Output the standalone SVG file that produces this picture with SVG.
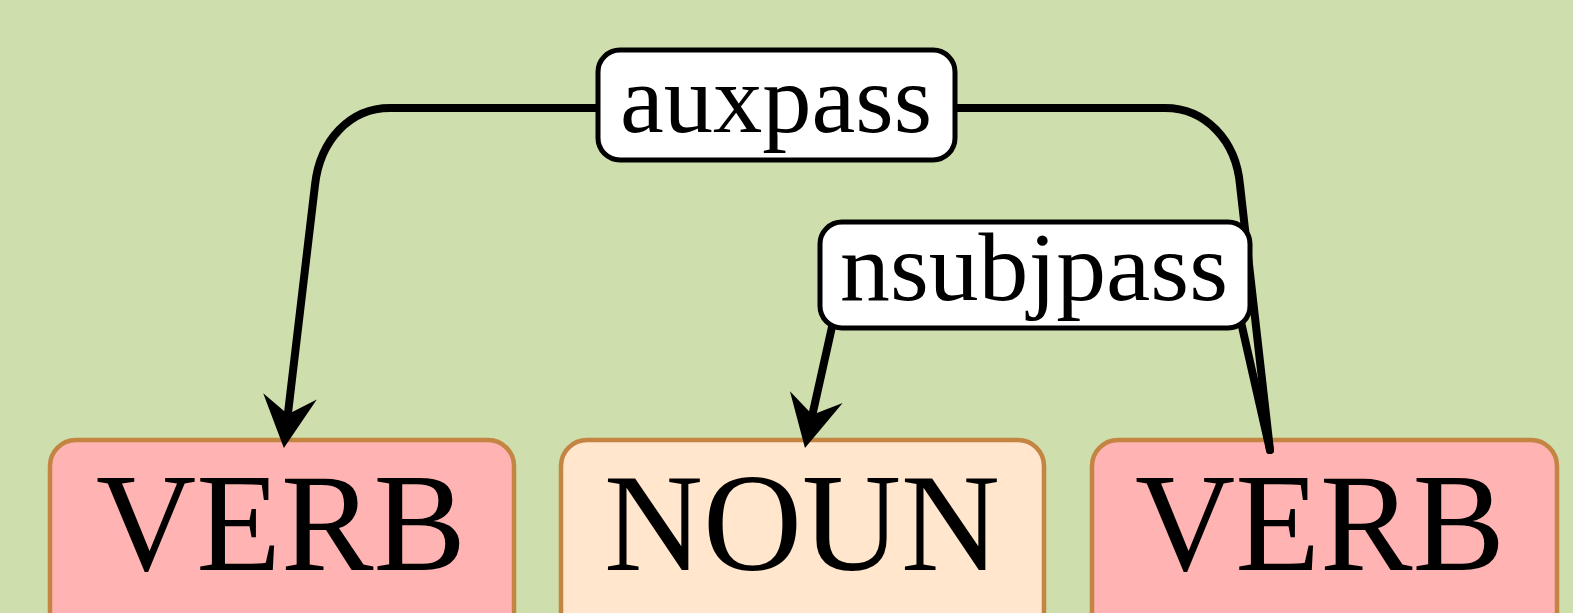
<svg xmlns="http://www.w3.org/2000/svg" width="1573" height="613" viewBox="0 0 1573 613">
<style>
.bg{fill:#cedead}
.verb rect{fill:#ffb3b3;stroke:#c48442;stroke-width:4.5}
.noun rect{fill:#ffe6cc;stroke:#c48442;stroke-width:4.5}
.node text{font-family:"Liberation Serif","DejaVu Serif",serif;font-size:139px;fill:#000;text-anchor:middle}
.edge{fill:none;stroke:#000;stroke-width:8;stroke-linecap:round;stroke-linejoin:round}
.lbl rect{fill:#fff;stroke:#000;stroke-width:5}
.lbl text{font-family:"Liberation Serif","DejaVu Serif",serif;font-size:98px;fill:#000;text-anchor:middle}
</style>
<defs>
<marker id="ah" markerUnits="userSpaceOnUse" markerWidth="60" markerHeight="60" refX="22" refY="0" orient="auto" overflow="visible">
<path d="M52,0 L0,-27 L18,0 L0,27 Z" fill="#000"/>
</marker>
</defs>
<rect class="bg" x="0" y="0" width="1573" height="613"/>
<g id="n1" class="node verb"><rect x="50" y="440" width="464" height="220" rx="26"/><text x="281" y="570" textLength="370" lengthAdjust="spacingAndGlyphs">VERB</text></g>
<g id="n2" class="node noun"><rect x="561" y="440" width="483" height="220" rx="26"/><text x="802" y="570" textLength="396" lengthAdjust="spacingAndGlyphs">NOUN</text></g>
<g id="n3" class="node verb"><rect x="1092" y="440" width="465" height="220" rx="26"/><text x="1320" y="570" textLength="370" lengthAdjust="spacingAndGlyphs">VERB</text></g>
<g id="connectors">
<path class="edge" marker-end="url(#ah)" d="M1270,450 L1240,185 C1236,140 1205,108 1165,108 L390,108 C350,108 320,140 315,185 L287.4,418.2"/>
<path class="edge" marker-end="url(#ah)" d="M1270,450 L1236,300 C1230,280 1215,272 1195,272 L880,272 C855,272 843,282 838,300 L811.5,418.7"/>
<g id="l1" class="lbl"><rect x="598" y="50" width="357" height="110" rx="22"/><text x="776" y="132" textLength="312" lengthAdjust="spacingAndGlyphs">auxpass</text></g>
<g id="l2" class="lbl"><rect x="820" y="222" width="430" height="106" rx="22"/><text x="1034" y="300" textLength="388" lengthAdjust="spacingAndGlyphs">nsubjpass</text></g>
</g>
</svg>
